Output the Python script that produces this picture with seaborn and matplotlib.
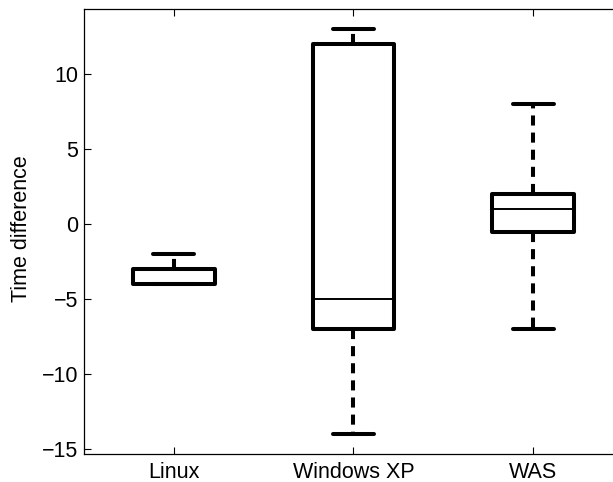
import matplotlib
matplotlib.use("Agg")
import matplotlib.pyplot as plt
import seaborn as sns
import pandas as pd

# ---- data (five-number summaries) ----
categories = ["Linux", "Windows XP", "WAS"]
lower_whisker = [-4, -14, -7]
lower_quartile = [-4, -7, -0.5]
medians = [-4, -5, 1]
upper_quartile = [-3, 12, 2]
upper_whisker = [-2, 13, 8]
y_ticks = [-15, -10, -5, 0, 5, 10]
y_label = "Time difference"

# long-form table: with 5 values per group and whis=(0,100) the box stats are exact
rows = []
for i, cat in enumerate(categories):
    for v in (lower_whisker[i], lower_quartile[i], medians[i],
              upper_quartile[i], upper_whisker[i]):
        rows.append({"group": cat, "value": v})
df = pd.DataFrame(rows)

sns.set_theme(style="white")
plt.rcParams["font.family"] = ["Liberation Sans", "DejaVu Sans"]

fig = plt.figure(figsize=(6.13, 4.82), dpi=100)
ax = fig.add_axes([84 / 613, 1 - 454 / 482, (614 - 84) / 613, (454 - 9.3) / 482])

sns.boxplot(
    data=df, x="group", y="value", order=categories, ax=ax,
    whis=(0, 100), width=0.455, color="white", linecolor="black",
    linewidth=2.9, fliersize=0,
    boxprops=dict(facecolor="white", edgecolor="black", linewidth=2.9, joinstyle="round"),
    whiskerprops=dict(color="black", linewidth=2.9, linestyle=(0, (2.5, 1.75))),
    capprops=dict(color="black", linewidth=2.9),
    medianprops=dict(color="black", linewidth=1.4),
)

ax.set_xlim(-0.5, 2.45)
ax.set_ylim(-15.31, 14.31)
ax.set_yticks(y_ticks)
ax.set_yticklabels([("\u2212" + str(-t)) if t < 0 else str(t) for t in y_ticks])
ax.set_xlabel("")
ax.set_ylabel(y_label, fontsize=15.5, color="black")
ax.yaxis.set_label_coords(-0.098, 0.506)

for name, s in ax.spines.items():
    s.set_visible(name != "right")
    s.set_color("black")
    s.set_linewidth(0.9)

ax.tick_params(axis="both", which="both", direction="in", length=5, width=0.8,
               colors="black", labelsize=15.5, top=True, right=False,
               bottom=True, left=True)
ax.tick_params(axis="x", pad=6)
ax.tick_params(axis="y", pad=4)
ax.grid(False)

fig.savefig("out.png", dpi=100, facecolor="white")
